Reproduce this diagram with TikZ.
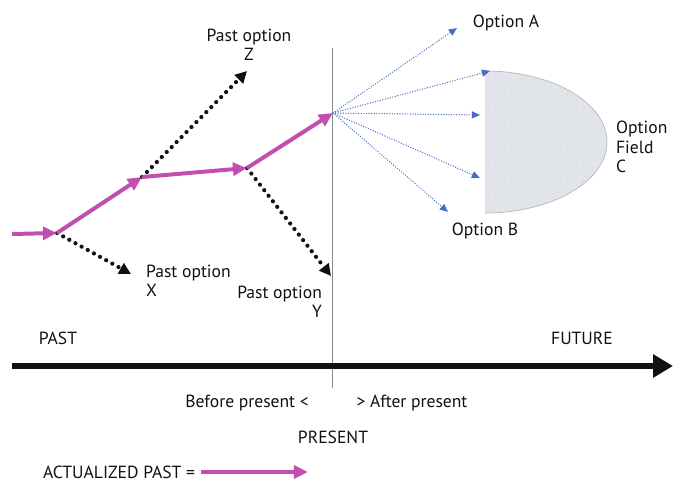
\documentclass[tikz,border=0pt]{standalone}
\usepackage{fontspec}
\setmainfont{PT Sans}
\usetikzlibrary{arrows.meta,positioning,patterns}
\definecolor{Actual}{HTML}{C04FB0}
\definecolor{OptBlue}{HTML}{4A6CC4}
\definecolor{Ink}{HTML}{111111}
\definecolor{FieldGray}{HTML}{E4E8EE}
\definecolor{RuleGray}{HTML}{8A8A8A}

\begin{document}
\begin{tikzpicture}[x=0.03cm,y=-0.03cm,font=\fontsize{15}{16.5}\selectfont,text=Ink,
    actual/.style={-{Triangle[length=12pt,width=11pt]},Actual,line width=3.4pt},
    pastopt/.style={-{Triangle[length=10pt,width=10pt]},Ink,line width=3.6pt,line cap=round,dash pattern=on 0pt off 6pt},
    futopt/.style={-{Triangle[length=7pt,width=6pt]},OptBlue,line width=1.2pt,line cap=round,dash pattern=on 0pt off 2.2pt}]
    \useasboundingbox (0,0) rectangle (674,484);

    % option field C
    \fill[FieldGray] (485,71) arc[start angle=-90,end angle=90,x radius=122,y radius=71] -- cycle;
    \fill[pattern=crosshatch dots,pattern color=gray!35] (485,71) arc[start angle=-90,end angle=90,x radius=122,y radius=71] -- cycle;
    \draw[gray!55,line width=0.6pt] (485,71) arc[start angle=-90,end angle=90,x radius=122,y radius=71];

    % present line and time axis
    \coordinate (now top) at (332,48);
    \coordinate (now bot) at (332,388);
    \draw[RuleGray,line width=0.7pt] (now top) -- (now bot);
    \coordinate (axis start) at (12,366);
    \coordinate (axis end) at (673,366);
    \draw[-{Triangle[length=17pt,width=19pt]},Ink,line width=4.6pt] (axis start) -- (axis end);

    % actualized path
    \coordinate (p in) at (12,234);
    \coordinate (p0) at (57,233);
    \coordinate (p1) at (142,177);
    \coordinate (p2) at (247,168);
    \coordinate (p3) at (333,113);
    \coordinate (tip x) at (131,274);
    \coordinate (tip z) at (247,71);
    \coordinate (tip y) at (331,276);
    \draw[pastopt] (p0) -- (tip x);
    \draw[pastopt] (p1) -- (tip z);
    \draw[pastopt] (p2) -- (tip y);
    \draw[actual] (p in) -- (p0);
    \draw[actual] (p0) -- (p1);
    \draw[actual] (p1) -- (p2);
    \draw[actual] (p2) -- (p3);

    % future options
    \coordinate (tip a) at (457,28);
    \coordinate (tip c1) at (490,71);
    \coordinate (tip c2) at (480,115);
    \coordinate (tip c3) at (480,178);
    \coordinate (tip b) at (448,212);
    \foreach \t in {tip a,tip c1,tip c2,tip c3,tip b}
        \draw[futopt] (p3) -- (\t);

    % labels
    \node[align=center] (lab z) at (249,45) {Past option\\Z};
    \node[anchor=west,align=left] (lab x) at (142,281) {Past option\\X};
    \node[anchor=east,align=right] (lab y) at (326,302) {Past option\\Y};
    \node (lab a) at (506,23) {Option A};
    \node (lab b) at (485,231) {Option B};
    \node[anchor=west,align=left] (lab c) at (612,147) {Option\\Field\\C};
    \node (past) at (58,338) {PAST};
    \node (future) at (582,338) {FUTURE};
    \node (before) at (247,403) {Before present <};
    \node (after) at (412,403) {> After present};
    \node (present) at (333,437) {PRESENT};

    % legend
    \node[inner sep=2pt] (legend) at (119,472) {ACTUALIZED PAST =};
    \coordinate (legend end) at (308,472);
    \draw[actual] ([xshift=3pt]legend.east) -- (legend end);
\end{tikzpicture}
\end{document}
